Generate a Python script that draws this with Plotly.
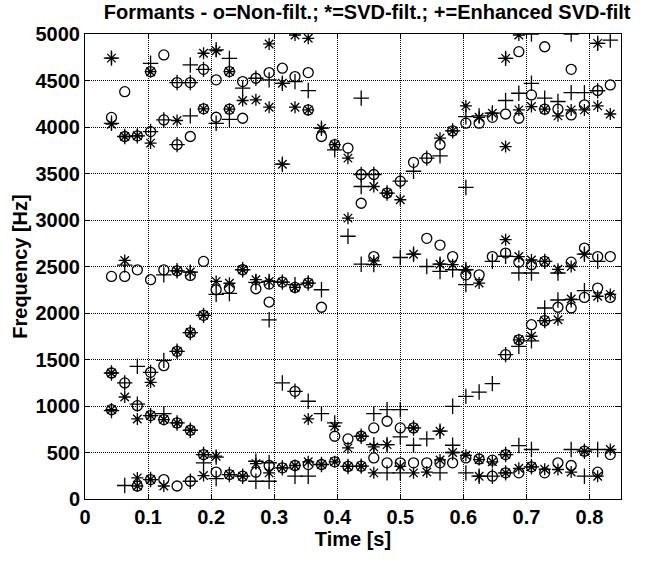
import plotly.graph_objects as go

# frame times (s)
time_s = [0.042, 0.063, 0.083, 0.104, 0.125, 0.146, 0.167, 0.188, 0.208, 0.229,
          0.250, 0.271, 0.292, 0.313, 0.333, 0.354, 0.375, 0.396, 0.417, 0.438,
          0.458, 0.479, 0.500, 0.521, 0.542, 0.563, 0.583, 0.604, 0.625, 0.646,
          0.667, 0.688, 0.708, 0.729, 0.750, 0.771, 0.792, 0.813, 0.833]

# o = non-filtered formants (Hz), one list per frame
circ_hz = [
    [961, 1355, 2393, 4103], [1248, 2393, 3898, 4380], [140, 1004, 2464, 3905],
    [209, 897, 1362, 2358, 3951, 4595], [209, 854, 1434, 2464, 4076, 4775],
    [140, 818, 1588, 2454, 3810, 4478], [191, 739, 1790, 2404, 3898, 4478],
    [478, 1975, 2555, 4195, 4620], [290, 2250, 4105, 4507], [263, 2268, 4192, 4596],
    [245, 2465, 4094, 4488], [288, 2261, 4524], [360, 2118, 2311, 4585],
    [335, 2332, 4632], [360, 1158, 2275, 4542], [370, 2322, 4184, 4585],
    [371, 2062, 3898], [400, 675, 3810], [350, 646, 3773], [353, 675, 3180, 3489],
    [442, 764, 2607, 3489], [389, 836, 3290], [389, 764, 3418], [389, 764, 3620],
    [389, 2803, 3665], [389, 2730, 3810], [389, 2607, 3958], [442, 2410, 4041],
    [430, 2410, 4041], [245, 418, 2607, 4104], [281, 478, 1552, 2644, 4140],
    [281, 1712, 2547, 4094, 4810], [346, 1874, 2520, 4345],
    [281, 1918, 2555, 4192, 4863], [389, 2062, 4192], [360, 2054, 2547, 4130, 4620],
    [514, 2168, 2698, 4238], [288, 2268, 2607, 4392], [478, 2168, 2607, 4452],
]

# * = SVD-filtered formants (Hz)
star_hz = [
    [961, 1355, 4030, 4741], [1097, 2565, 3898], [140, 227, 861, 3905],
    [209, 897, 1255, 3827, 4595], [140, 854], [818, 1588, 2454, 4070],
    [739, 1790, 2440], [252, 478, 1975, 4195, 4793], [460, 2340, 4820],
    [263, 2320, 4192, 4596], [245, 2465, 4285], [380, 2358, 4292],
    [281, 2340, 4213, 4893], [335, 2332, 3600, 4470], [360, 2275, 4213, 4989],
    [400, 861, 2322, 4184, 4954], [371, 3987], [400, 782, 3810],
    [350, 550, 3020, 3665], [353, 675], [281, 560, 2560, 3360], [585, 3290],
    [350, 3218], [281, 764, 2632], [290], [420, 729, 2525, 3880],
    [500, 2520, 3958], [470, 2465, 4227], [245, 424, 2322, 4104], [400, 4148],
    [281, 478, 2788, 3790, 4738], [330, 1712, 2607, 4184, 4989],
    [346, 1750, 2570, 4220], [320, 1918, 2555, 4192], [317, 1927, 2470, 4120],
    [290, 2150, 2500, 4184], [514, 2632, 4184], [245, 2180, 4227, 4899],
    [532, 2200, 4140],
]

# + = enhanced SVD-filtered formants (Hz)
plus_hz = [
    [950, 1355, 4040, 4741], [145, 1248, 2515, 3898], [1020, 1427, 3905],
    [209, 897, 1362, 3951, 4685], [918, 1491, 2410, 4076],
    [818, 1588, 2454, 3810, 4478], [191, 739, 1790, 2440, 4120, 4478, 4667],
    [389, 478, 1975, 4620], [220, 450, 2200, 4040, 4830], [263, 2210, 4083, 4738],
    [245, 2465, 4417], [191, 406, 2330, 4524], [191, 390, 1927, 2340, 4507],
    [335, 1248, 2332, 3600, 4470], [245, 1158, 2305, 4488], [245, 1051, 2322, 4392],
    [371, 918, 2250, 3987], [818, 3755], [350, 2825],
    [353, 675, 2525, 3360, 3489, 4310], [585, 918, 2520, 3489],
    [281, 585, 961, 3290], [281, 668, 961, 2597, 3418], [578, 764, 2632, 3524],
    [646, 2500, 3665], [281, 729, 2447, 2525, 3690], [500, 578, 997, 2465, 3958],
    [281, 1104, 2305, 2465, 3350, 4111], [245, 1150, 4120], [245, 1241, 2555, 4150],
    [281, 478, 1552, 2610, 4285, 4738], [575, 1641, 2430, 4363],
    [346, 532, 1700, 2430, 4470, 5000], [1918, 2054, 2555, 4310], [2140, 2430, 4274],
    [532, 2143, 4370, 5000], [245, 514, 2240, 2632, 4370], [532, 2555, 4390, 4899],
    [4935],
]

x_ticks = [0, 0.1, 0.2, 0.3, 0.4, 0.5, 0.6, 0.7, 0.8]
x_tick_text = ["0", "0.1", "0.2", "0.3", "0.4", "0.5", "0.6", "0.7", "0.8"]
y_ticks = [0, 500, 1000, 1500, 2000, 2500, 3000, 3500, 4000, 4500, 5000]


def flatten(times, groups):
    xs, ys = [], []
    for t, g in zip(times, groups):
        for v in g:
            xs.append(t)
            ys.append(v)
    return xs, ys


FONT = "Liberation Sans, Arial, Helvetica, sans-serif"
fig = go.Figure()
for groups, sym, size in [(circ_hz, "circle-open", 10),
                          (star_hz, "asterisk-open", 10),
                          (plus_hz, "cross-thin-open", 11)]:
    xs, ys = flatten(time_s, groups)
    fig.add_trace(go.Scatter(
        x=xs, y=ys, mode="markers", showlegend=False,
        marker=dict(symbol=sym, size=size, color="black",
                    line=dict(color="black", width=1.3)),
    ))

axis_common = dict(
    showgrid=True, gridcolor="black", gridwidth=1, griddash="1px,1px",
    showline=True, linecolor="black", linewidth=1, mirror="ticks",
    ticks="inside", ticklen=5, tickcolor="black", zeroline=False,
    tickfont=dict(family=FONT, size=20, color="black", weight="bold"),
)

fig.update_layout(
    width=664, height=561,
    margin=dict(l=85, r=43, t=34, b=62),
    paper_bgcolor="white", plot_bgcolor="white",
    title=dict(text="Formants - o=Non-filt.; *=SVD-filt.; +=Enhanced SVD-filt",
               x=0.553, xanchor="center", xref="container",
               y=0.979, yanchor="middle", yref="container",
               font=dict(family=FONT, size=20, color="black", weight="bold")),
    xaxis=dict(range=[0, 0.85], tickvals=x_ticks, ticktext=x_tick_text,
               title=dict(text="Time [s]", standoff=4,
                          font=dict(family=FONT, size=20, color="black", weight="bold")),
               **axis_common),
    yaxis=dict(range=[0, 5000], tickvals=y_ticks,
               title=dict(text="Frequency [Hz]", standoff=2,
                          font=dict(family=FONT, size=20, color="black", weight="bold")),
               **axis_common),
)

fig.write_html("out.html")
